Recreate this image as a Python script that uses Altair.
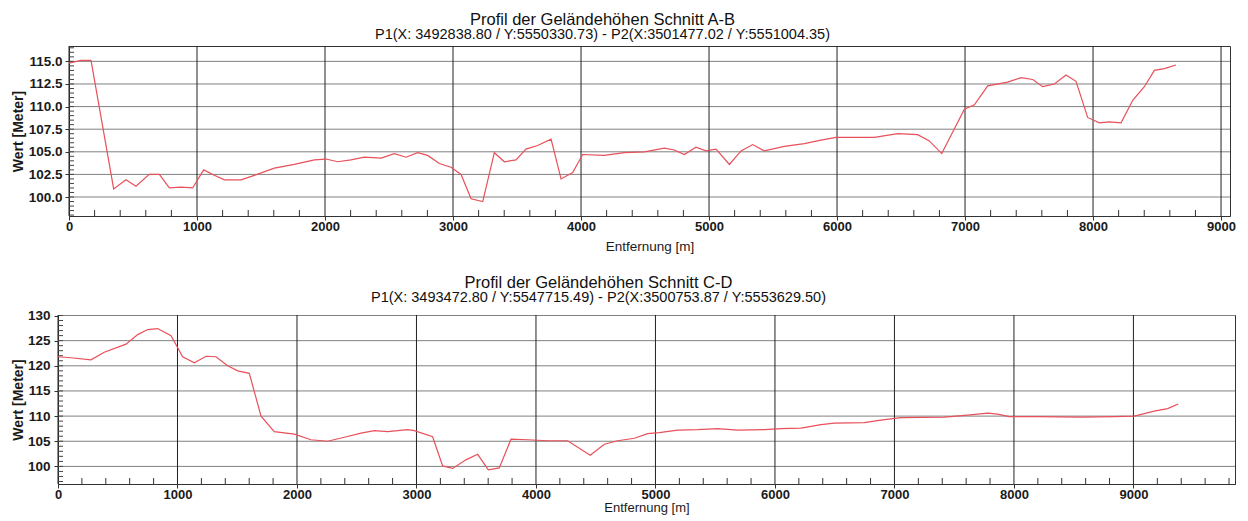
import altair as alt
import pandas as pd

# ---- data: profile A-B ----
ab_dist = [0, 94, 172, 349, 445, 523, 627, 706, 784, 875, 966, 1052, 1135, 1214, 1344, 1448,
           1604, 1760, 1917, 2008, 2099, 2203, 2307, 2438, 2541, 2633, 2724, 2802, 2893, 2984,
           3063, 3141, 3232, 3323, 3401, 3492, 3570, 3661, 3766, 3844, 3935, 4013, 4182, 4338,
           4495, 4651, 4729, 4807, 4898, 4977, 5055, 5159, 5250, 5341, 5432, 5588, 5745, 5875,
           5992, 6292, 6474, 6630, 6721, 6818, 6995, 7073, 7177, 7333, 7437, 7529, 7607, 7698,
           7789, 7867, 7958, 8049, 8127, 8219, 8310, 8401, 8479, 8557, 8648]
ab_elev = [114.8, 115.1, 115.1, 100.9, 101.9, 101.2, 102.5, 102.5, 101.0, 101.1, 101.0, 103.0,
           102.4, 101.9, 101.9, 102.4, 103.2, 103.6, 104.1, 104.2, 103.9, 104.1, 104.4, 104.3,
           104.8, 104.4, 104.9, 104.6, 103.7, 103.3, 102.5, 99.8, 99.5, 104.9, 103.9, 104.1,
           105.3, 105.7, 106.4, 102.0, 102.7, 104.7, 104.6, 104.9, 105.0, 105.4, 105.2, 104.7,
           105.5, 105.1, 105.3, 103.6, 105.1, 105.8, 105.1, 105.6, 105.9, 106.3, 106.6, 106.6,
           107.0, 106.9, 106.2, 104.8, 109.7, 110.2, 112.3, 112.7, 113.2, 113.0, 112.2, 112.5,
           113.5, 112.8, 108.8, 108.2, 108.3, 108.2, 110.7, 112.2, 114.0, 114.2, 114.6]

# ---- data: profile C-D ----
cd_dist = [0, 109, 276, 387, 569, 667, 751, 834, 946, 1002, 1043, 1141, 1239, 1322, 1420, 1504,
           1601, 1699, 1810, 1978, 2117, 2257, 2396, 2536, 2647, 2759, 2926, 2982, 3135, 3219,
           3303, 3414, 3512, 3601, 3693, 3791, 3931, 4098, 4265, 4454, 4572, 4684, 4823, 4935,
           5032, 5186, 5353, 5520, 5688, 5911, 6050, 6218, 6385, 6497, 6747, 6887, 7054, 7417,
           7612, 7780, 7864, 7961, 8198, 8561, 8839, 9007, 9174, 9286, 9375]
cd_elev = [121.8, 121.6, 121.2, 122.7, 124.3, 126.2, 127.2, 127.4, 126.0, 123.6, 121.8, 120.6,
           121.9, 121.8, 120.0, 119.0, 118.5, 110.0, 106.9, 106.4, 105.3, 105.0, 105.8, 106.6,
           107.1, 106.9, 107.3, 107.1, 105.9, 100.1, 99.6, 101.3, 102.4, 99.3, 99.7, 105.4,
           105.3, 105.1, 105.1, 102.2, 104.4, 105.1, 105.6, 106.5, 106.7, 107.2, 107.3, 107.5,
           107.2, 107.3, 107.5, 107.6, 108.3, 108.6, 108.7, 109.2, 109.7, 109.8, 110.2, 110.6,
           110.4, 109.9, 109.9, 109.8, 109.9, 110.0, 111.0, 111.5, 112.4]

# ---- text ----
ab_title = "Profil der Geländehöhen Schnitt A-B"
ab_sub = "P1(X: 3492838.80 / Y:5550330.73) - P2(X:3501477.02 / Y:5551004.35)"
cd_title = "Profil der Geländehöhen Schnitt C-D"
cd_sub = "P1(X: 3493472.80 / Y:5547715.49) - P2(X:3500753.87 / Y:5553629.50)"

ab_yticks = [100.0, 102.5, 105.0, 107.5, 110.0, 112.5, 115.0]
cd_yticks = [100, 105, 110, 115, 120, 125, 130]
x_ticks = [0, 1000, 2000, 3000, 4000, 5000, 6000, 7000, 8000, 9000]

FONT = "Liberation Sans"
LINE = "#e8505a"


def panel(dist, elev, title, sub, xmax, ydom, yticks, yfmt, ystep, width, height,
          yext, ylabpad, xtitlepad, xtitlesize, tdx):
    df = pd.DataFrame({"d": dist, "h": elev})
    xminor = pd.DataFrame({"d": [v for v in range(200, int(xmax), 200) if v % 1000]})
    k0 = int(ydom[0] / ystep) + 1
    k1 = int(ydom[1] / ystep)
    yminor = pd.DataFrame({"h": [round(k * ystep, 2) for k in range(k0, k1 + 1)]})
    xgrid = pd.DataFrame({"d": x_ticks})
    ygrid = pd.DataFrame({"h": yticks})

    xs = alt.Scale(domain=[0, xmax], nice=False, zero=False)
    ys = alt.Scale(domain=ydom, nice=False, zero=False)
    xax = alt.Axis(values=x_ticks, title="Entfernung [m]", format="d", grid=False,
                   tickSize=4, tickColor="#333", domainColor="#333", labelOverlap=False,
                   labelPadding=0, titlePadding=xtitlepad,
                   labelFont=FONT, labelFontSize=13, labelFontWeight="bold", labelColor="#1a1a1a",
                   titleFont=FONT, titleFontSize=xtitlesize, titleFontWeight="normal",
                   titleColor="#1a1a1a", labelFlush=False)
    yax = alt.Axis(values=yticks, title="Wert [Meter]", format=yfmt, grid=False,
                   tickSize=4, tickColor="#333", domainColor="#333", labelOverlap=False,
                   labelPadding=ylabpad, titlePadding=3, minExtent=yext, maxExtent=yext,
                   labelFont=FONT, labelFontSize=13.5, labelFontWeight="bold", labelColor="#1a1a1a",
                   titleFont=FONT, titleFontSize=14, titleFontWeight="bold", titleColor="#1a1a1a",
                   labelFlush=False)

    X = lambda: alt.X("d:Q", scale=xs, axis=xax)
    Y = lambda: alt.Y("h:Q", scale=ys, axis=yax)

    hgrid = alt.Chart(ygrid).mark_rule(color="#808080", strokeWidth=1).encode(
        y=Y(), x=alt.value(0), x2=alt.value(width))
    vgrid = alt.Chart(xgrid).mark_rule(color="#222222", strokeWidth=1).encode(
        x=X(), y=alt.value(0), y2=alt.value(height))
    xm = alt.Chart(xminor).mark_rule(color="#333", strokeWidth=1).encode(
        x=X(), y=alt.value(height), y2=alt.value(height - 6))
    ym = alt.Chart(yminor).mark_rule(color="#444", strokeWidth=1).encode(
        y=Y(), x=alt.value(0), x2=alt.value(5))
    line = alt.Chart(df).mark_line(color=LINE, strokeWidth=1.2).encode(x=X(), y=Y())

    return alt.layer(hgrid, vgrid, xm, ym, line).properties(
        width=width, height=height,
        title=alt.TitleParams(text=title, subtitle=sub, anchor="middle", dx=tdx, frame="group",
                              font=FONT, subtitleFont=FONT, fontSize=16.5, subtitleFontSize=14.5,
                              fontWeight="normal", color="#111", subtitleColor="#111",
                              offset=4, subtitlePadding=0),
    )


def spacer():
    # invisible 1px column: panels are placed after it, so they line up by their outer left edges
    return alt.Chart(pd.DataFrame({"a": [0]})).mark_point(
        opacity=0, size=0, strokeWidth=0
    ).encode(
        x=alt.value(0), y=alt.value(0)
    ).properties(width=1, height=1, view=alt.ViewBackground(strokeOpacity=0))


p1 = panel(ab_dist, ab_elev, ab_title, ab_sub, 9070, [97.9, 116.7], ab_yticks, ".1f", 0.5,
           1161, 170, 41, 3, 6, 13.5, -47)
p2 = panel(cd_dist, cd_elev, cd_title, cd_sub, 9850, [96.5, 130.1], cd_yticks, "d", 1,
           1177, 169, 30, 4, 0, 13, -48)

chart = alt.vconcat(
    alt.hconcat(spacer(), p1, spacing=0),
    alt.hconcat(spacer(), p2, spacing=0),
    spacing=21,
).properties(
    padding={"left": 1, "top": 3, "right": 4, "bottom": 0},
    background="white",
).configure_view(stroke="#333", strokeWidth=1)

chart.save("out.html", embed_options={"renderer": "svg", "actions": False})
